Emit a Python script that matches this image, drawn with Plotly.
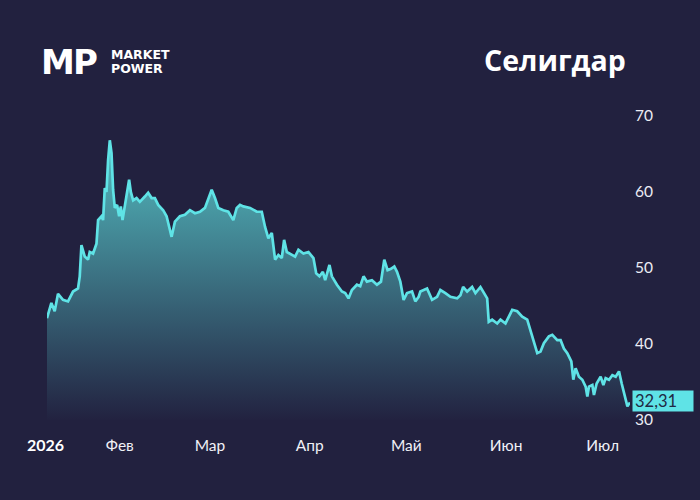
import plotly.graph_objects as go
import pandas as pd

# Day of year 2026 (0 = 1 Jan) and close price
day = [8.38, 9.74, 10.77, 11.80, 13.35, 14.91, 16.47, 18.02, 18.55, 19.08,
       20.11, 21.13, 21.66, 22.69, 23.75, 24.25, 25.31, 25.80, 26.33, 26.86,
       27.36, 27.89, 28.42, 28.91, 29.44, 30.16, 30.78, 31.31, 31.84, 32.34,
       33.09, 33.89, 34.42, 35.14, 36.20, 37.22, 38.78, 39.81, 40.87, 41.89,
       42.92, 44.47, 45.53, 46.34, 47.09, 48.12, 49.67, 51.23, 52.78, 54.34,
       55.90, 57.45, 58.48, 59.54, 60.56, 61.59, 63.15, 64.70, 66.26, 67.32,
       68.34, 69.37, 71.46, 73.54, 75.10, 76.12, 77.15, 78.21, 79.24, 80.26,
       81.32, 82.04, 82.88, 84.43, 85.46, 86.49, 88.04, 89.60, 91.15, 92.00,
       93.02, 94.08, 94.80, 96.13, 96.88, 98.44, 99.99, 101.02, 102.05, 103.10,
       104.66, 105.69, 106.72, 107.77, 109.33, 110.88, 112.13, 113.16, 114.18, 115.24,
       116.27, 117.11, 118.14, 119.16, 120.22, 121.78, 122.80, 123.83, 124.36, 126.44,
       128.00, 129.56, 130.58, 132.14, 133.70, 135.78, 136.81, 137.65, 138.89, 140.45,
       141.48, 143.03, 144.06, 145.12, 145.61, 146.67, 148.23, 149.26, 150.81, 151.84,
       152.90, 154.45, 156.01, 157.56, 158.59, 159.62, 160.68, 161.70, 162.73, 164.29,
       165.35, 166.90, 167.93, 168.95, 170.01, 171.26, 171.88, 172.60, 173.62, 174.68,
       175.71, 176.24, 176.74, 177.79, 178.29, 179.13, 180.37, 181.22, 181.93, 182.96,
       184.02, 185.04, 186.07, 186.91, 187.62, 188.15, 188.68, 189.49]

price = [43.4, 45.4, 44.3, 46.6, 45.8, 45.6, 46.9, 47.3, 48.9, 53.0,
         51.5, 51.1, 52.1, 51.9, 53.2, 56.3, 56.8, 56.3, 60.5, 60.0,
         64.2, 66.8, 65.1, 60.3, 57.9, 58.3, 56.8, 58.1, 56.3, 57.6,
         60.0, 61.6, 60.0, 58.9, 59.2, 58.7, 59.4, 59.9, 59.2, 59.2,
         58.3, 57.6, 56.8, 55.4, 54.1, 56.1, 56.8, 57.0, 57.6, 57.2,
         57.4, 57.9, 59.2, 60.3, 59.2, 57.9, 57.6, 57.4, 56.3, 57.9,
         58.3, 58.1, 57.9, 57.4, 57.4, 55.4, 53.9, 54.6, 51.1, 51.7,
         51.3, 53.7, 52.1, 51.7, 51.5, 52.4, 51.9, 52.1, 51.3, 49.3,
         48.9, 49.5, 48.4, 50.4, 48.9, 47.8, 46.9, 46.7, 46.0, 47.1,
         47.8, 47.6, 48.9, 48.2, 48.4, 47.8, 48.2, 51.1, 49.7, 49.9,
         50.2, 49.5, 48.2, 45.8, 46.7, 46.9, 45.6, 46.2, 46.9, 47.3,
         45.8, 46.2, 47.1, 46.7, 46.2, 46.0, 46.4, 47.5, 46.9, 47.5,
         46.7, 47.5, 46.7, 46.0, 42.9, 43.2, 42.7, 43.2, 42.7, 43.6,
         44.5, 44.3, 43.6, 43.2, 41.8, 40.5, 38.8, 39.0, 40.1, 41.0,
         41.2, 40.5, 40.5, 39.4, 38.8, 37.7, 35.3, 36.8, 35.7, 35.3,
         34.4, 33.1, 34.4, 34.6, 33.3, 34.8, 35.7, 34.6, 35.5, 35.3,
         35.9, 35.7, 36.4, 34.8, 33.5, 32.6, 31.8, 32.31]

tick_dates = ["2026-02-01", "2026-03-01", "2026-04-01",
              "2026-05-01", "2026-06-01", "2026-07-01"]
tick_labels = ["Фев", "Мар", "Апр", "Май", "Июн", "Июл"]
year_label = "2026"
y_ticks = [30, 40, 50, 60, 70]
last_label = "32,31"
title = "Селигдар"

BG = "#22213f"
LINE = "#5fe3e6"

dates = pd.Timestamp("2026-01-01") + pd.to_timedelta(day, unit="D")

fig = go.Figure()
fig.add_trace(go.Scatter(
    x=dates, y=price, mode="lines",
    line=dict(color=LINE, width=2.7),
    fill="tozeroy",
    fillgradient=dict(type="vertical", start=30, stop=67,
                      colorscale=[[0, "rgba(34,34,64,1)"], [1, "rgb(84,190,194)"]]),
    hoverinfo="skip",
))

fig.update_layout(
    width=700, height=500,
    paper_bgcolor=BG, plot_bgcolor=BG,
    margin=dict(l=47, r=70, t=100, b=80),
    showlegend=False,
    font=dict(family="Lato, sans-serif", color="#ececf4", size=15),
    xaxis=dict(range=[dates[0], dates[-1]], tickvals=tick_dates, ticktext=tick_labels,
               showgrid=False, zeroline=False, showline=False, ticks="",
               ticklabelstandoff=14, tickfont=dict(size=15.5, color="#f0f0f6")),
    yaxis=dict(range=[30, 72.1], side="right", tickvals=y_ticks, showgrid=False,
               zeroline=False, showline=False, ticks="", ticklabelstandoff=4,
               tickfont=dict(size=15.5, color="#ececf4")),
)

# year label under the first point
fig.add_annotation(xref="paper", yref="paper", x=-0.003, y=-0.078, xanchor="center", yanchor="middle",
                   text="<b>" + year_label + "</b>", showarrow=False,
                   font=dict(family="Lato, sans-serif", size=16, color="#ffffff"))

fig.add_annotation(xref="paper", yref="y", x=1, y=price[-1], xanchor="left", yanchor="middle",
                   xshift=2, yshift=1.5, text=last_label, showarrow=False, align="left",
                   bgcolor=LINE, width=56, height=16, borderpad=2,
                   font=dict(family="Lato, sans-serif", size=16.5, color="#1f2a44"))

fig.add_annotation(xref="paper", yref="paper", x=0.9966, y=1.125, xanchor="right", yanchor="middle",
                   text="<b>" + title + "</b>", showarrow=False,
                   font=dict(family="Open Sans, sans-serif", size=28.5, color="#ffffff"))

# logo
fig.add_annotation(xref="paper", yref="paper", x=-0.013, y=1.118, xanchor="left", yanchor="middle",
                   text="<b>M</b>", showarrow=False,
                   font=dict(family="DejaVu Sans, sans-serif", size=34, color="#ffffff"))
fig.add_annotation(xref="paper", yref="paper", x=0.042, y=1.118, xanchor="left", yanchor="middle",
                   text="<b>P</b>", showarrow=False,
                   font=dict(family="DejaVu Sans, sans-serif", size=34, color="#ffffff"))
fig.add_annotation(xref="paper", yref="paper", x=0.106, y=1.142, xanchor="left", yanchor="middle",
                   text="<b>MARKET</b>", showarrow=False,
                   font=dict(family="DejaVu Sans, sans-serif", size=12.5, color="#ffffff"))
fig.add_annotation(xref="paper", yref="paper", x=0.106, y=1.098, xanchor="left", yanchor="middle",
                   text="<b>POWER</b>", showarrow=False,
                   font=dict(family="DejaVu Sans, sans-serif", size=12.5, color="#ffffff"))

fig.write_html("out.html")
